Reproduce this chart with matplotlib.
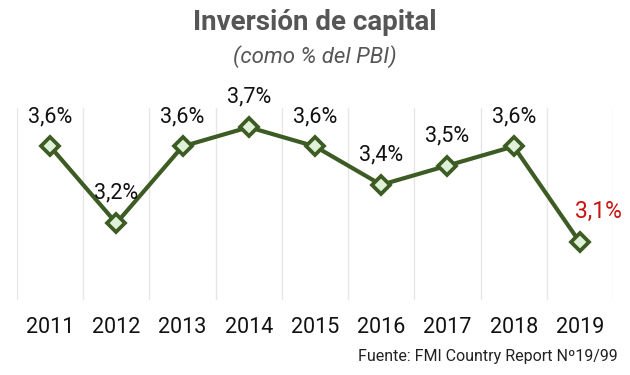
"""Inversión de capital (como % del PBI), 2011-2019."""

import matplotlib
matplotlib.use('Agg')
import matplotlib.pyplot as plt
import numpy as np

years = ['2011', '2012', '2013', '2014', '2015', '2016', '2017', '2018', '2019']
values = [3.6, 3.2, 3.6, 3.7, 3.6, 3.4, 3.5, 3.6, 3.1]
labels = ['3,6%', '3,2%', '3,6%', '3,7%', '3,6%', '3,4%', '3,5%', '3,6%', '3,1%']
label_colors = ['#111111'] * 8 + ['#cc1111']

plt.rcParams['font.family'] = ['Roboto', 'DejaVu Sans']

fig = plt.figure(figsize=(6.3, 3.75), dpi=100)
ax = fig.add_axes([17 / 630, 1 - 300 / 375, (613 - 17) / 630, (300 - 108) / 375])

x = np.arange(len(years))
ax.plot(x, values, color='#3d5c24', lw=3.0, marker='D', markersize=9,
        markerfacecolor='#e0f1da', markeredgecolor='#3d5c24', markeredgewidth=2.7,
        zorder=3)

for i, (xi, v, lab, c) in enumerate(zip(x, values, labels, label_colors)):
    last = i == len(values) - 1
    # the highlighted last value sits up and to the right of its point
    off = (13, 14) if last else (0, 14)
    ax.annotate(lab, (xi, v), xytext=off, textcoords='offset points',
                ha='center', va='bottom', fontsize=16.5 if last else 15.5, color=c)

ax.set_xlim(-0.5, len(years) - 0.5)
ax.set_ylim(2.8, 3.8)
ax.set_xticks(x)
ax.set_xticklabels(years, fontsize=15.5, color='#111111')
ax.set_yticks([])
ax.tick_params(axis='x', length=0, pad=12)

# vertical separators between categories
for b in np.arange(-0.5, len(years), 1.0):
    ax.axvline(b, color='#e6e6e6', lw=1, zorder=0)

for s in ax.spines.values():
    s.set_visible(False)

fig.text(0.5, 1 - 22 / 375, 'Inversión de capital', ha='center', va='center',
         fontsize=20, fontweight='bold', color='#565656')
fig.text(0.5, 1 - 57 / 375, '(como % del PBI)', ha='center', va='center',
         fontsize=16, style='italic', color='#565656')
fig.text(618 / 630, 1 - 357 / 375, 'Fuente: FMI Country Report Nº19/99',
         ha='right', va='center', fontsize=11.5, color='#222222')

fig.savefig('out.png', dpi=100)
